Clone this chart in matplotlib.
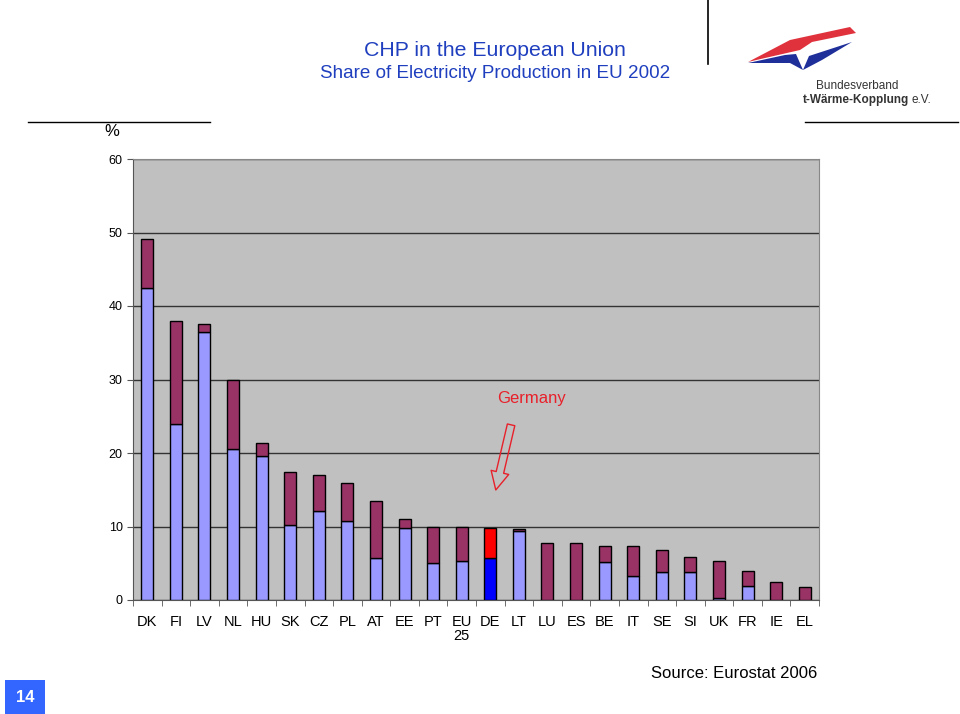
import numpy as np
import matplotlib.pyplot as plt
from matplotlib.patches import Rectangle, Polygon

plt.rcParams['font.family'] = ['Liberation Sans', 'DejaVu Sans']

countries = ["DK", "FI", "LV", "NL", "HU", "SK", "CZ", "PL", "AT", "EE", "PT", "EU\n25",
             "DE", "LT", "LU", "ES", "BE", "IT", "SE", "SI", "UK", "FR", "IE", "EL"]
total = [49.1, 38.0, 37.6, 29.9, 21.4, 17.4, 17.0, 15.9, 13.5, 11.0, 9.9, 9.9,
         9.8, 9.6, 7.8, 7.7, 7.4, 7.3, 6.8, 5.9, 5.3, 3.9, 2.4, 1.8]
lower = [42.4, 23.9, 36.5, 20.5, 19.6, 10.2, 12.1, 10.7, 5.7, 9.8, 5.0, 5.3,
         5.7, 9.4, 0.0, 0.0, 5.2, 3.2, 3.8, 3.8, 0.3, 1.9, 0.0, 0.0]
upper = [t - l for t, l in zip(total, lower)]

fig = plt.figure(figsize=(9.6, 7.14), dpi=100)
W, H = 960, 714
ax = fig.add_axes([133 / W, 1 - 600 / H, (819 - 133) / W, (600 - 159) / H])
ax.set_facecolor('#C0C0C0')

x = np.arange(len(countries))
c_low = ['#9999FF'] * len(x)
c_up = ['#993366'] * len(x)
de = countries.index("DE")
c_low[de] = '#0000FF'
c_up[de] = '#FF0000'

ax.bar(x, lower, width=0.42, color=c_low, edgecolor='black', linewidth=1, zorder=3)
ax.bar(x, upper, bottom=lower, width=0.42, color=c_up, edgecolor='black', linewidth=1, zorder=3)

ax.set_xlim(-0.5, len(x) - 0.5)
ax.set_ylim(0, 60)
ax.set_yticks(range(0, 61, 10))
ax.yaxis.grid(True, color='#333333', linewidth=1, zorder=1)
ax.set_xticks(x)
ax.set_xticklabels(countries, fontsize=10.5, linespacing=0.95)
ax.set_xticks(np.arange(-0.5, len(x), 1), minor=True)
ax.tick_params(axis='x', which='major', length=0, pad=11)
ax.tick_params(axis='x', which='minor', length=4, color='#555555')
ax.tick_params(axis='y', length=4, labelsize=9, color='#555555')
for s in ['top', 'right']:
    ax.spines[s].set_color('#888888')
ax.spines['left'].set_color('#555555')
ax.spines['bottom'].set_color('#555555')
for lab in ax.get_xticklabels():
    lab.set_verticalalignment('top')

# Germany marker
ax.text(13.45, 27.4, "Germany", color='#E8202A', fontsize=12, ha='center', va='center', zorder=5)
ax.annotate("", xy=(12.17, 14.6), xytext=(12.75, 24.2),
            arrowprops=dict(arrowstyle='simple,head_length=1.3,head_width=1.3,tail_width=0.55',
                            fc='none', ec='#E8202A', lw=1), zorder=5)

# header
fig.text(495 / W, 1 - 51 / H, "CHP in the European Union", color='#1F3FBF',
         fontsize=15.3, ha='center', va='center')
fig.text(495 / W, 1 - 74 / H, "Share of Electricity Production in EU 2002", color='#1F3FBF',
         fontsize=13.6, ha='center', va='center')
fig.text(112 / W, 1 - 132 / H, "%", fontsize=12, ha='center', va='center')
fig.add_artist(plt.Line2D([28 / W, 210 / W], [1 - 122 / H] * 2, color='black', lw=1))
fig.add_artist(plt.Line2D([805 / W, 958 / W], [1 - 122 / H] * 2, color='black', lw=1))
fig.add_artist(plt.Line2D([708 / W] * 2, [1, 1 - 64 / H], color='black', lw=1.2))

# logo swoosh
red = Polygon([(748 / W, 1 - 62 / H), (790 / W, 1 - 40 / H), (850 / W, 1 - 27 / H),
               (856 / W, 1 - 33 / H), (812 / W, 1 - 42 / H), (800 / W, 1 - 50 / H),
               (765 / W, 1 - 58 / H)], closed=True, transform=fig.transFigure,
              fc='#E0323C', ec='none')
blue = Polygon([(748 / W, 1 - 63 / H), (785 / W, 1 - 55 / H), (796 / W, 1 - 54 / H),
                (803 / W, 1 - 70 / H), (790 / W, 1 - 63 / H)], closed=True,
               transform=fig.transFigure, fc='#1F2F9A', ec='none')
blue2 = Polygon([(803 / W, 1 - 70 / H), (809 / W, 1 - 56 / H), (852 / W, 1 - 42 / H),
                 (822 / W, 1 - 60 / H)], closed=True, transform=fig.transFigure,
                fc='#1F2F9A', ec='none')
for p in (red, blue, blue2):
    fig.add_artist(p)
fig.text(816 / W, 1 - 86 / H, "Bundesverband", fontsize=8.5, color='#333333', va='center')
fig.text(803 / W, 1 - 100 / H, "t-Wärme-Kopplung", fontsize=8.5, fontweight='bold',
         color='#333333', va='center')
fig.text(912 / W, 1 - 100 / H, "e.V.", fontsize=8.5, color='#333333', va='center')

fig.text(817 / W, 1 - 673 / H, "Source: Eurostat 2006", fontsize=12, ha='right', va='center')
fig.add_artist(Rectangle((5 / W, 1 - 714 / H), 40 / W, 34 / H, transform=fig.transFigure,
                         fc='#3366FF', ec='none'))
fig.text(25 / W, 1 - 697 / H, "14", fontsize=12, fontweight='bold', color='white',
         ha='center', va='center')

fig.savefig("out.png", dpi=100)
